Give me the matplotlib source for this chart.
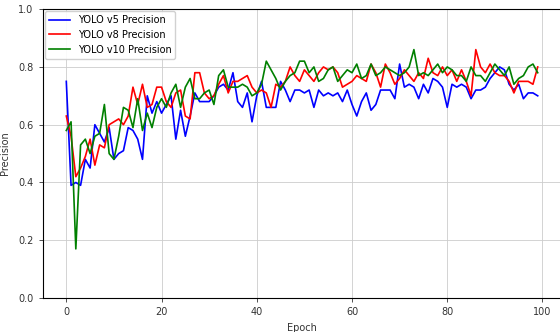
import numpy as np
import matplotlib
matplotlib.use("Agg")
import matplotlib.pyplot as plt

epochs = list(range(100))

yolo_v5 = [0.75, 0.39, 0.40, 0.39, 0.48, 0.45, 0.60, 0.57, 0.54, 0.59,
           0.48, 0.50, 0.51, 0.59, 0.58, 0.55, 0.48, 0.70, 0.64, 0.68,
           0.64, 0.67, 0.70, 0.55, 0.65, 0.56, 0.63, 0.71, 0.68, 0.68,
           0.68, 0.70, 0.73, 0.74, 0.72, 0.78, 0.68, 0.66, 0.71, 0.61,
           0.70, 0.75, 0.66, 0.66, 0.66, 0.75, 0.72, 0.68, 0.72, 0.72,
           0.71, 0.72, 0.66, 0.72, 0.70, 0.71, 0.70, 0.71, 0.68, 0.72,
           0.67, 0.63, 0.68, 0.71, 0.65, 0.67, 0.72, 0.72, 0.72, 0.69,
           0.81, 0.73, 0.74, 0.73, 0.69, 0.74, 0.71, 0.76, 0.75, 0.73,
           0.66, 0.74, 0.73, 0.74, 0.73, 0.69, 0.72, 0.72, 0.73, 0.76,
           0.78, 0.80, 0.79, 0.74, 0.72, 0.74, 0.69, 0.71, 0.71, 0.70]

yolo_v8 = [0.63, 0.56, 0.42, 0.45, 0.49, 0.55, 0.46, 0.53, 0.52, 0.60,
           0.61, 0.62, 0.60, 0.63, 0.73, 0.67, 0.74, 0.66, 0.67, 0.73,
           0.73, 0.68, 0.66, 0.71, 0.72, 0.63, 0.62, 0.78, 0.78, 0.71,
           0.69, 0.70, 0.74, 0.77, 0.71, 0.75, 0.75, 0.76, 0.77, 0.73,
           0.71, 0.72, 0.71, 0.66, 0.74, 0.73, 0.75, 0.80, 0.77, 0.75,
           0.79, 0.77, 0.75, 0.78, 0.80, 0.79, 0.80, 0.78, 0.73, 0.74,
           0.75, 0.77, 0.76, 0.75, 0.81, 0.78, 0.73, 0.81, 0.78, 0.74,
           0.76, 0.79, 0.77, 0.75, 0.78, 0.76, 0.83, 0.78, 0.77, 0.80,
           0.77, 0.79, 0.75, 0.79, 0.75, 0.70, 0.86, 0.80, 0.78, 0.81,
           0.78, 0.77, 0.77, 0.75, 0.71, 0.75, 0.75, 0.75, 0.74, 0.80]

yolo_v10 = [0.58, 0.61, 0.17, 0.53, 0.55, 0.50, 0.56, 0.57, 0.67, 0.50,
            0.48, 0.56, 0.66, 0.65, 0.59, 0.69, 0.58, 0.64, 0.59, 0.66,
            0.69, 0.66, 0.71, 0.74, 0.66, 0.73, 0.76, 0.69, 0.69, 0.71,
            0.72, 0.67, 0.77, 0.79, 0.73, 0.73, 0.73, 0.74, 0.73, 0.70,
            0.71, 0.74, 0.82, 0.79, 0.76, 0.72, 0.75, 0.77, 0.78, 0.82,
            0.82, 0.78, 0.80, 0.75, 0.76, 0.79, 0.80, 0.75, 0.77, 0.79,
            0.78, 0.81, 0.76, 0.77, 0.81, 0.77, 0.78, 0.80, 0.79, 0.78,
            0.77, 0.78, 0.80, 0.86, 0.77, 0.78, 0.77, 0.79, 0.81, 0.78,
            0.80, 0.79, 0.77, 0.77, 0.75, 0.80, 0.77, 0.77, 0.75, 0.78,
            0.81, 0.79, 0.77, 0.80, 0.74, 0.76, 0.77, 0.80, 0.81, 0.78]

series = [("YOLO v5 Precision", yolo_v5, "blue"),
          ("YOLO v8 Precision", yolo_v8, "red"),
          ("YOLO v10 Precision", yolo_v10, "green")]

fig = plt.figure(figsize=(5.6, 3.32), dpi=100)
ax = fig.add_axes([0.0763, 0.1024, 0.926, 0.870])

for label, vals, col in series:
    ax.plot(epochs, vals, color=col, lw=1.2, label=label)

ax.set_ylim(0, 1.0)
ax.set_xticks([0, 20, 40, 60, 80, 100])
ax.set_yticks([0.0, 0.2, 0.4, 0.6, 0.8, 1.0])
ax.tick_params(labelsize=7, colors='#333333', length=3, width=0.6)
ax.grid(True, color='#cccccc', lw=0.6)
for s in ax.spines.values():
    s.set_linewidth(0.8)

ax.set_xlabel("Epoch", fontsize=7, color='#333333', labelpad=4)
ax.set_ylabel("Precision", fontsize=7, color='#333333', labelpad=6)

ax.legend(loc='upper left', bbox_to_anchor=(0, 1), fontsize=7,
          borderaxespad=0.2, handlelength=2.2, fancybox=True, framealpha=0.9)

fig.savefig("out.png", dpi=100)
